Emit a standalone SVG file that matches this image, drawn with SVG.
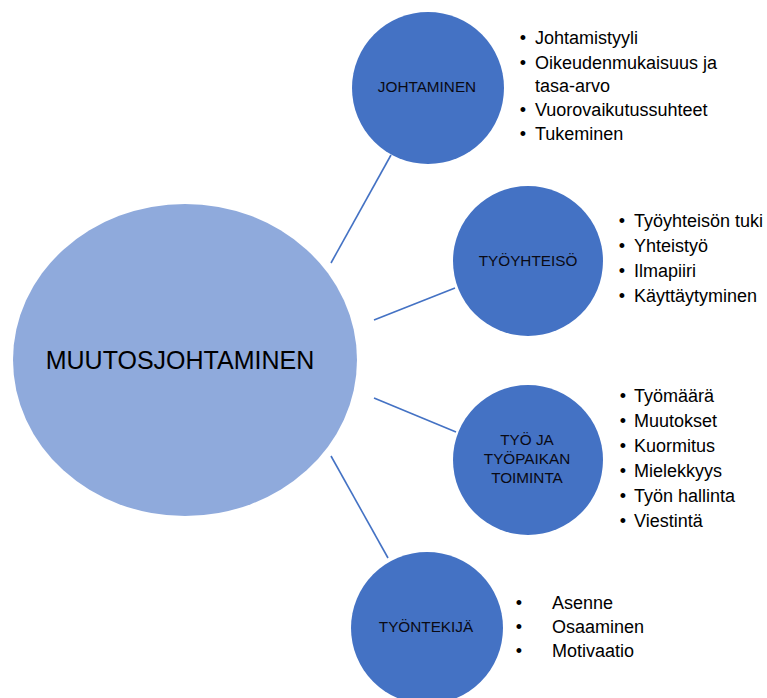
<svg xmlns="http://www.w3.org/2000/svg" width="767" height="698" viewBox="0 0 767 698">
<style>
.bg{fill:#ffffff}
.main{fill:#8FAADC}
.sub{fill:#4472C4}
.conn{stroke:#4472C4;stroke-width:1.6;fill:none}
.t{font-family:"Liberation Sans",Arial,sans-serif;fill:#000}
.lbl{font-size:15.3px;text-anchor:middle;fill:#0a0a14}
.big{font-size:25px;text-anchor:middle}
.li{font-size:18px}
.bu{font-size:18px;text-anchor:middle}
</style>
<rect class="bg" x="0" y="0" width="767" height="698"/>
<g id="connectors">
<line class="conn" x1="331" y1="263" x2="391" y2="155"/>
<line class="conn" x1="374" y1="320" x2="455" y2="288"/>
<line class="conn" x1="374" y1="398" x2="456" y2="432"/>
<line class="conn" x1="331" y1="456" x2="388" y2="558"/>
</g>
<g id="muutosjohtaminen">
<ellipse class="main" cx="185" cy="360" rx="172" ry="156"/>
<text class="t big" x="180" y="369">MUUTOSJOHTAMINEN</text>
</g>
<g id="johtaminen">
<circle class="sub" cx="428" cy="88" r="76"/>
<text class="t lbl" x="427" y="92">JOHTAMINEN</text>
<text class="t bu" x="523" y="44">•</text>
<text class="t li" x="535" y="44">Johtamistyyli</text>
<text class="t bu" x="523" y="69">•</text>
<text class="t li" x="535" y="69">Oikeudenmukaisuus ja</text>
<text class="t li" x="535" y="92">tasa-arvo</text>
<text class="t bu" x="523" y="116">•</text>
<text class="t li" x="535" y="116">Vuorovaikutussuhteet</text>
<text class="t bu" x="523" y="140">•</text>
<text class="t li" x="535" y="140">Tukeminen</text>
</g>
<g id="tyoyhteiso">
<circle class="sub" cx="528" cy="261" r="75"/>
<text class="t lbl" x="528" y="266">TYÖYHTEISÖ</text>
<text class="t bu" x="622" y="227">•</text>
<text class="t li" x="634" y="227">Työyhteisön tuki</text>
<text class="t bu" x="622" y="252">•</text>
<text class="t li" x="634" y="252">Yhteistyö</text>
<text class="t bu" x="622" y="277">•</text>
<text class="t li" x="634" y="277">Ilmapiiri</text>
<text class="t bu" x="622" y="302">•</text>
<text class="t li" x="634" y="302">Käyttäytyminen</text>
</g>
<g id="tyo-ja-tyopaikan-toiminta">
<circle class="sub" cx="528" cy="460" r="75"/>
<text class="t lbl" x="527" y="445">TYÖ JA</text>
<text class="t lbl" x="527" y="464">TYÖPAIKAN</text>
<text class="t lbl" x="527" y="483">TOIMINTA</text>
<text class="t bu" x="623" y="402">•</text>
<text class="t li" x="634" y="402">Työmäärä</text>
<text class="t bu" x="623" y="427">•</text>
<text class="t li" x="634" y="427">Muutokset</text>
<text class="t bu" x="623" y="452">•</text>
<text class="t li" x="634" y="452">Kuormitus</text>
<text class="t bu" x="623" y="477">•</text>
<text class="t li" x="634" y="477">Mielekkyys</text>
<text class="t bu" x="623" y="502">•</text>
<text class="t li" x="634" y="502">Työn hallinta</text>
<text class="t bu" x="623" y="527">•</text>
<text class="t li" x="634" y="527">Viestintä</text>
</g>
<g id="tyontekija">
<circle class="sub" cx="427" cy="628" r="76"/>
<text class="t lbl" x="426" y="632">TYÖNTEKIJÄ</text>
<text class="t bu" x="519" y="609">•</text>
<text class="t li" x="552" y="609">Asenne</text>
<text class="t bu" x="519" y="633">•</text>
<text class="t li" x="552" y="633">Osaaminen</text>
<text class="t bu" x="519" y="657">•</text>
<text class="t li" x="552" y="657">Motivaatio</text>
</g>
</svg>
